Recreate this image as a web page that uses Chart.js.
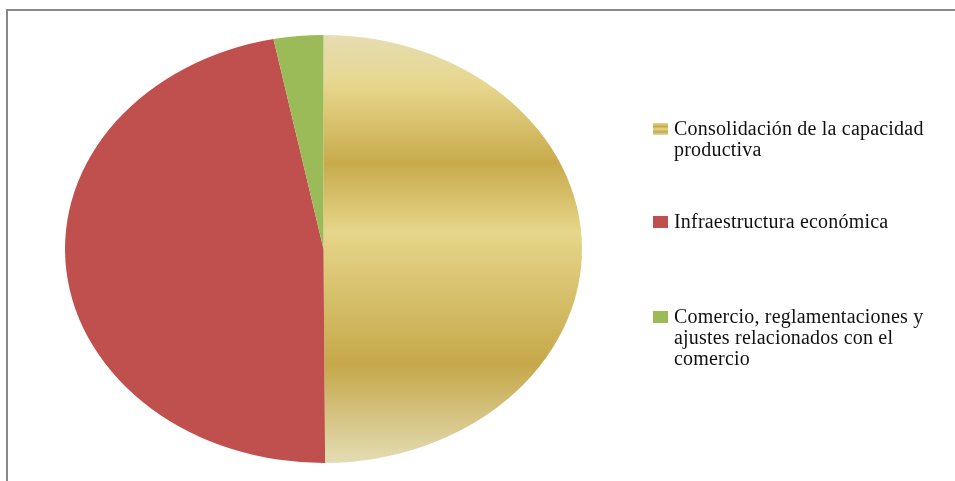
<!DOCTYPE html>
<html>
<head>
<meta charset="utf-8">
<script src="https://cdn.jsdelivr.net/npm/chart.js@4.4.0/dist/chart.umd.min.js"></script>
<style>
  html, body { margin: 0; padding: 0; background: #fff; }
  #wrap { position: relative; width: 955px; height: 481px; overflow: hidden; }
  #frame { position: absolute; left: 6px; top: 9px; width: 1000px; height: 600px;
           border-left: 2px solid #888; border-top: 2px solid #888; }
  #chart { position: absolute; left: 0; top: 0; }
  #legend { position: absolute; left: 653px; top: 0; font-family: "Liberation Serif", serif;
            font-size: 20px; color: #111; }
  .item { position: absolute; left: 0; width: 300px; }
  .box { position: absolute; left: 0; width: 15px; height: 12px; }
  .txt { position: absolute; left: 21px; line-height: 21px; white-space: nowrap; letter-spacing: 0.2px; }
</style>
</head>
<body>
<div id="wrap">
  <div id="frame"></div>
  <canvas id="chart" width="955" height="481"></canvas>
  <div id="legend"></div>
</div>
<script>
// categorias y valores (% aprox.)
const labels = [
    ["Consolidación de la capacidad", "productiva"],
    ["Infraestructura económica"],
    ["Comercio, reglamentaciones y", "ajustes relacionados con el", "comercio"]
];
const values = [49.9, 47.0, 3.1];
const colors = ["gold", "#C0504D", "#9BBB59"];

// bandas del degradado dorado
const goldStops = [
    [0.00, "#E6DDB2"],
    [0.12, "#E6D68C"],
    [0.30, "#C8AA4B"],
    [0.46, "#E6D68A"],
    [0.77, "#C6A84A"],
    [1.00, "#E4DCB4"]
];

// el pastel original esta estirado en horizontal
const stretchX = 258.5 / 214;

const ellipsePlugin = {
    id: "ellipse",
    beforeDatasetsDraw(chart) {
        const arc = chart.getDatasetMeta(0).data[0];
        const ctx = chart.ctx;
        ctx.save();
        ctx.translate(arc.x, 0);
        ctx.scale(stretchX, 1);
        ctx.translate(-arc.x, 0);
    },
    afterDatasetsDraw(chart) {
        chart.ctx.restore();
    }
};

function sliceColor(c) {
    const i = c.dataIndex;
    if (colors[i] !== "gold") return colors[i];
    const area = c.chart.chartArea;
    if (!area) return "#D6C06A";
    const g = c.chart.ctx.createLinearGradient(0, area.top, 0, area.bottom);
    goldStops.forEach(s => g.addColorStop(s[0], s[1]));
    return g;
}

new Chart(document.getElementById("chart"), {
    type: "pie",
    data: {
        labels: labels.map(l => l.join(" ")),
        datasets: [{
            data: values,
            backgroundColor: sliceColor,
            borderWidth: 0
        }]
    },
    options: {
        responsive: false,
        animation: false,
        layout: {
            padding: { left: 109.5, right: 417.5, top: 35, bottom: 18 }
        },
        plugins: {
            legend: { display: false },
            tooltip: { enabled: false }
        }
    },
    plugins: [ellipsePlugin]
});

// leyenda en html
const legendTops = [120, 213, 308];
const legend = document.getElementById("legend");
labels.forEach((lines, i) => {
    const item = document.createElement("div");
    item.className = "item";
    item.style.top = legendTops[i] + "px";
    const box = document.createElement("div");
    box.className = "box";
    box.style.top = "3px";
    box.style.background = colors[i] === "gold"
        ? "linear-gradient(#E6D68C 0%, #C8AA4B 30%, #E6D68A 50%, #C6A84A 75%, #E4DCB4 100%)"
        : colors[i];
    const txt = document.createElement("div");
    txt.className = "txt";
    txt.style.top = "-2px";
    txt.innerHTML = lines.join("<br>");
    item.appendChild(box);
    item.appendChild(txt);
    legend.appendChild(item);
});
</script>
</body>
</html>
